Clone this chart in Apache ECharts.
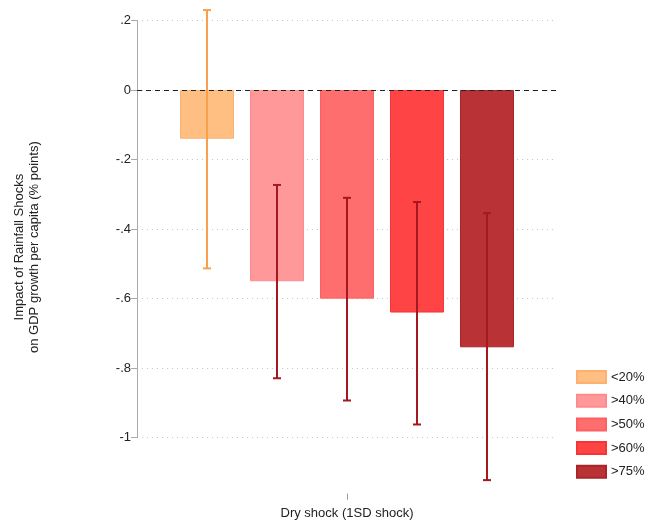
<!DOCTYPE html>
<html>
<head>
  <meta charset="UTF-8">
  <title>Rainfall shocks</title>
  <script src="https://cdn.jsdelivr.net/npm/echarts/dist/echarts.min.js"></script>
</head>
<body style="margin: 0; overflow: hidden">
<div id="main" style="width: 653px; height: 523px"></div>

<script>
  // slots on the x axis: empty ends keep the bars centred like the original
  const slots = ['', '<20%', '>40%', '>50%', '>60%', '>75%', ''];
  const groups = ['<20%', '>40%', '>50%', '>60%', '>75%'];
  const shockLabel = ['Dry shock (1SD shock)'];
  const estimates = [-0.14, -0.55, -0.60, -0.64, -0.74];
  const ciUpper = [0.23, -0.273, -0.31, -0.322, -0.354];
  const ciLower = [-0.513, -0.829, -0.893, -0.962, -1.122];
  const yTicks = [0.2, 0, -0.2, -0.4, -0.6, -0.8, -1];

  const fills = ['#ffbe82', '#ff9899', '#ff6e6e', '#ff4446', '#b93236'];
  const borders = ['#fdb070', '#ff8a8c', '#ff5f60', '#f73538', '#a8252a'];
  const ciColors = ['#f9a04c', '#a3191f', '#a3191f', '#a3191f', '#a3191f'];

  const fmt = v => {
    if (Math.abs(v) < 1e-9) return '0';
    let s = String(Math.round(v * 10) / 10);
    return s.replace(/^(-?)0\./, '$1.');
  };

  const barSeries = groups.map((g, i) => ({
    name: g,
    type: 'bar',
    barWidth: 54,
    barGap: '-100%',
    data: slots.map(s => (s === g ? estimates[i] : '-')),
    itemStyle: { color: fills[i], borderColor: borders[i], borderWidth: 1 },
    markLine: i === 0 ? {
      silent: true,
      symbol: 'none',
      label: { show: false },
      lineStyle: { color: '#222', type: [5, 4], width: 1 },
      data: [{ yAxis: 0 }]
    } : undefined
  }));

  const ciSeries = {
    type: 'custom',
    clip: false,
    z: 5,
    data: groups.map((g, i) => [slots.indexOf(g), ciUpper[i], ciLower[i], i]),
    renderItem: function (params, api) {
      const x = api.value(0);
      const top = api.coord([x, api.value(1)]);
      const bot = api.coord([x, api.value(2)]);
      const color = ciColors[api.value(3)];
      const cap = 4;
      const style = { stroke: color, lineWidth: 2 };
      return {
        type: 'group',
        children: [
          { type: 'line', shape: { x1: top[0], y1: top[1], x2: bot[0], y2: bot[1] }, style: style },
          { type: 'line', shape: { x1: top[0] - cap, y1: top[1], x2: top[0] + cap, y2: top[1] }, style: style },
          { type: 'line', shape: { x1: bot[0] - cap, y1: bot[1], x2: bot[0] + cap, y2: bot[1] }, style: style }
        ]
      };
    }
  };

  const option = {
    animation: false,
    backgroundColor: '#fff',
    textStyle: { fontFamily: 'Liberation Sans, Arial, sans-serif' },
    grid: { left: 137, right: 96, top: 20.5, bottom: 85.3, outerBoundsMode: 'none' },
    legend: {
      orient: 'vertical',
      left: 571,
      top: 365,
      icon: 'rect',
      itemWidth: 29,
      itemHeight: 12,
      itemGap: 9.7,
      data: groups,
      textStyle: { fontSize: 13, color: '#222' }
    },
    xAxis: [
      {
        // positions the bars, drawn invisibly
        type: 'category',
        position: 'bottom',
        data: slots,
        boundaryGap: false,
        show: false
      },
      {
        // the visible axis: one category centred under the bars
        type: 'category',
        position: 'bottom',
        data: shockLabel,
        boundaryGap: true,
        offset: 56,
        axisLine: { show: true, lineStyle: { color: '#fff', width: 0, opacity: 0 } },
        axisTick: {
          show: true,
          length: 6,
          alignWithLabel: true,
          interval: 0,
          lineStyle: { color: '#999', width: 1 }
        },
        axisLabel: { show: true, fontSize: 13, color: '#222', margin: 13 },
        splitLine: { show: false }
      }
    ],
    yAxis: {
      type: 'value',
      min: -1,
      max: 0.2,
      interval: 0.2,
      name: 'Impact of Rainfall Shocks\non GDP growth per capita (% points)',
      nameLocation: 'middle',
      nameGap: 95,
      nameRotate: 90,
      nameTextStyle: { fontSize: 13, color: '#222', lineHeight: 15, padding: [0, 36, 0, 0] },
      axisLine: { show: true, lineStyle: { color: '#aaa', width: 1 } },
      axisTick: { show: true, length: 6, lineStyle: { color: '#aaa' } },
      axisLabel: {
        fontSize: 13,
        color: '#222',
        margin: 6,
        formatter: v => (yTicks.some(t => Math.abs(t - v) < 1e-9) ? fmt(v) : '')
      },
      splitLine: { show: true, lineStyle: { color: '#c8c8c8', type: [1, 4], width: 1 } }
    },
    series: barSeries.concat([ciSeries])
  };

  const chart = echarts.init(document.getElementById('main'));
  chart.setOption(option);
</script>
</body>
</html>
